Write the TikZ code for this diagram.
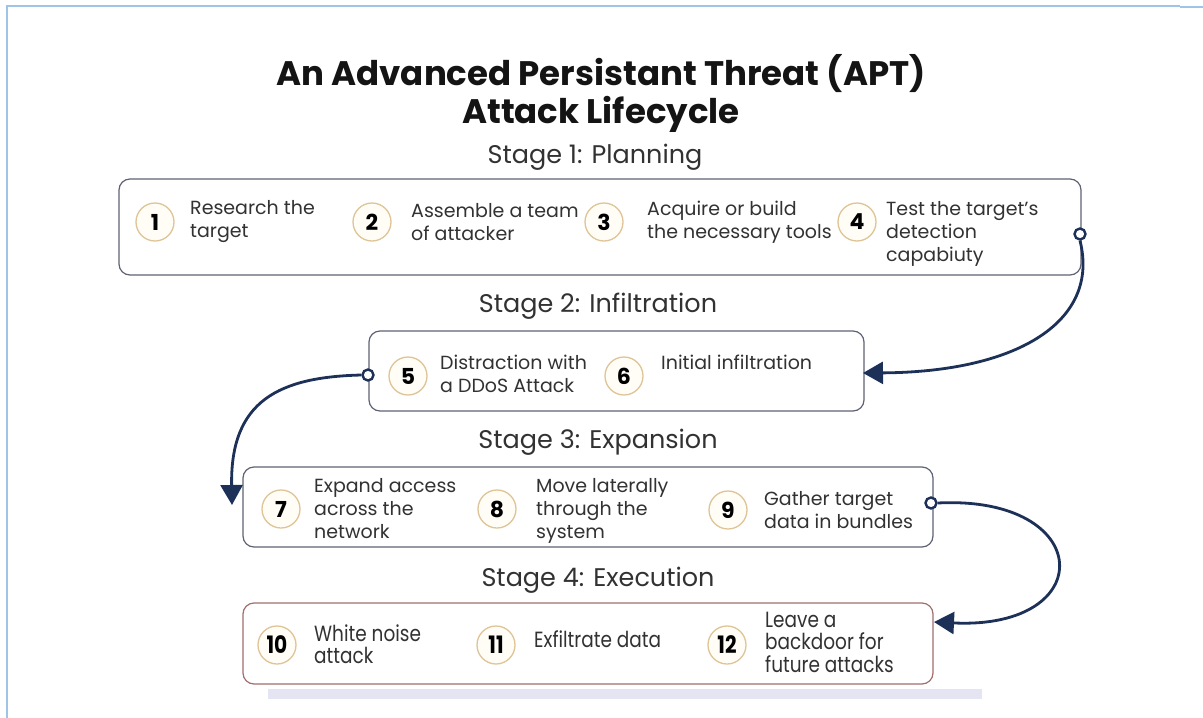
\documentclass[tikz,border=0pt]{standalone}
\usepackage{fontspec}
\setmainfont{Poppins}
\newfontfamily\condfont[FakeStretch=0.84]{Poppins}
\usetikzlibrary{arrows.meta}
\definecolor{frameblue}{RGB}{160,196,232}
\definecolor{navy}{RGB}{28,48,88}
\definecolor{boxgray}{RGB}{95,98,115}
\definecolor{boxred}{RGB}{160,110,110}
\definecolor{tan}{RGB}{222,196,150}
\definecolor{cream}{RGB}{255,253,246}
\definecolor{txt}{RGB}{50,50,50}
\definecolor{barcol}{RGB}{228,228,242}
\tikzset{
  stagebox/.style={draw=boxgray,line width=1.2pt,rounded corners=11pt,fill=white},
  numc/.style={circle,draw=tan,fill=cream,line width=1.3pt,minimum size=38pt,inner sep=0pt,
    font=\fontsize{22}{22}\selectfont\bfseries,text=black},
  itemtxt/.style={anchor=west,align=left,inner sep=0pt,text=txt,font=\fontsize{19}{23}\selectfont},
  condtxt/.style={itemtxt,font=\condfont\fontsize{22}{22.5}\selectfont},
  condnum/.style={numc,font=\condfont\fontsize{24}{24}\selectfont\bfseries},
  stagelbl/.style={inner sep=0pt,text=txt,font=\fontsize{25.5}{25.5}\selectfont},
  conn/.style={draw=navy,line width=2.8pt,-{Triangle[length=20pt,width=22pt]}},
  endc/.style={circle,draw=navy,fill=white,line width=2.4pt,minimum size=11pt,inner sep=0pt}
}
\begin{document}
\begin{tikzpicture}[x=1pt,y=-1pt]
\useasboundingbox (0,0) rectangle (1203,718);
\fill[white] (0,0) rectangle (1203,718);
% frame
\draw[frameblue,line width=2pt] (7,718) -- (7,6) -- (1180,6);
\draw[frameblue,line width=2pt] (1180,7) -- (1203,7);
% faint bar at bottom
\fill[barcol] (268,689) rectangle (982,699);

% title
\node[inner sep=0pt,align=center,text=black!92,font=\fontsize{34}{38}\selectfont\bfseries] (title) at (601,93)
  {An Advanced Persistant Threat (APT)\\Attack Lifecycle};

% stage 1
\node[stagelbl] (s1) at (595,157) {Stage 1: Planning};
\node[stagebox,minimum width=962pt,minimum height=96pt] (b1) at (600,227) {};
\node[numc] (c1) at (155,222) {1};
\node[itemtxt] (t1) at (190,222) {Research the\\target};
\node[numc] (c2) at (372,222) {2};
\node[itemtxt] (t2) at (411,222) {Assemble a team\\of attacker};
\node[numc] (c3) at (604,222) {3};
\node[itemtxt] (t3) at (647,222) {Acquire or build\\the necessary tools};
\node[numc] (c4) at (857,222) {4};
\node[itemtxt] (t4) at (886,234) {Test the target’s\\detection\\capabiuty};

% stage 2
\node[stagelbl] (s2) at (598,306) {Stage 2: Infiltration};
\node[stagebox,minimum width=495pt,minimum height=80pt] (b2) at (616.5,371) {};
\node[numc] (c5) at (408,376) {5};
\node[itemtxt] (t5) at (440,374) {Distraction with\\a DDoS Attack};
\node[numc] (c6) at (624,376) {6};
\node[itemtxt] (t6) at (661,362) {Initial infiltration};

% stage 3
\node[stagelbl] (s3) at (598,442) {Stage 3: Expansion};
\node[stagebox,minimum width=690pt,minimum height=80pt] (b3) at (588,507) {};
\node[numc] (c7) at (281,509) {7};
\node[itemtxt] (t7) at (314,509) {Expand access\\across the\\network};
\node[numc] (c8) at (497,509) {8};
\node[itemtxt] (t8) at (536,511) {Move laterally\\through the\\system};
\node[numc] (c9) at (728,510) {9};
\node[itemtxt] (t9) at (764,510) {Gather target\\data in bundles};

% stage 4
\node[stagelbl] (s4) at (598,580) {Stage 4: Execution};
\node[stagebox,draw=boxred,minimum width=690pt,minimum height=81pt] (b4) at (588,643.5) {};
\node[condnum] (c10) at (277,645) {10};
\node[condtxt] (t10) at (314,644) {White noise\\attack};
\node[condnum] (c11) at (496,645) {11};
\node[condtxt] (t11) at (534,639) {Exfiltrate data};
\node[condnum] (c12) at (727,645) {12};
\node[condtxt] (t12) at (765,642) {Leave a\\backdoor for\\future attacks};

% connectors
\coordinate (a1) at (863,373);
\coordinate (a2) at (232,505);
\coordinate (a3) at (934,622);
\node[endc] (p1) at (1080,234) {};
\node[endc] (p2) at (368,375) {};
\node[endc] (p3) at (931,503) {};
\draw[conn] (p1.south) .. controls (1100,320) and (1020,372) .. (a1);
\draw[conn] (p2.west) .. controls (280,377) and (230,400) .. (a2);
\draw[conn] (p3.east) .. controls (1095,495) and (1100,630) .. (a3);
\end{tikzpicture}
\end{document}
